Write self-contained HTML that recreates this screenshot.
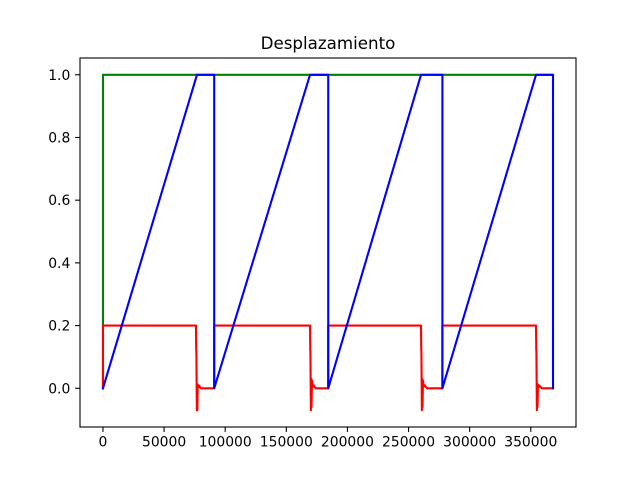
<!DOCTYPE html>
<html><head><meta charset="utf-8"><style>body{margin:0;background:#fff}svg{display:block;font-family:"DejaVu Sans","Liberation Sans",sans-serif}</style></head>
<body>
<svg id="c" width="640" height="480"></svg>
<script>
const xTicks=[0,50000,100000,150000,200000,250000,300000,350000];
const yTicks=[0.0,0.2,0.4,0.6,0.8,1.0];
const greenX=[0,0,368200];
const greenY=[0,1,1];
const blueX=[0,76900,91000,91000,169400,184300,184300,260200,277700,277700,354300,368200,368200];
const blueY=[0,1,1,0,1,1,0,1,1,0,1,1,0];
const redX=[0,0,76100,76300,76400,76800,77000,77200,77500,78200,78700,80000,91000,91000,169400,169600,169700,170100,170300,170600,171000,171600,172200,174000,184300,184300,260200,260400,260500,260900,261100,261400,261800,262400,263000,265000,277700,277700,354300,354500,354600,355000,355200,355500,355900,356500,357100,359000,368200];
const redY=[0,0.2,0.2,0.12,0.12,-0.07,0.01,-0.07,0.012,0.004,0.008,0,0,0.2,0.2,0.12,0.12,-0.07,0.03,-0.06,0.025,0.005,0.01,0,0,0.2,0.2,0.12,0.12,-0.07,0.03,-0.06,0.025,0.005,0.01,0,0,0.2,0.2,0.12,0.12,-0.07,0.015,-0.06,0.012,0.004,0.008,0,0];
const L=80,R=576,T=58,B=427;
const xmin=-18800,xmax=387000,ymin=-0.1235,ymax=1.0535;
const X=v=>L+(v-xmin)/(xmax-xmin)*(R-L);
const Y=v=>B-(v-ymin)/(ymax-ymin)*(B-T);
const svg=document.getElementById('c');const NS='http://www.w3.org/2000/svg';
function mk(t,a){const e=document.createElementNS(NS,t);for(const k in a)e.setAttribute(k,a[k]);svg.appendChild(e);return e;}
function line(xs,ys,col,name){const p=mk('polyline',{points:xs.map((x,i)=>X(x)+','+Y(ys[i])).join(' '),fill:'none',stroke:col,'stroke-width':2.1,'stroke-linejoin':'round','stroke-linecap':'square'});

}
line(greenX,greenY,'#008000','series-green');
line(redX,redY,'#ff0000','series-red');
line(blueX,blueY,'#0000ff','series-blue');
const fr=mk('rect',{x:L,y:T,width:R-L,height:B-T,fill:'none',stroke:'#000','stroke-width':1.1});


xTicks.forEach(v=>{const x=X(v);mk('line',{x1:x,x2:x,y1:B,y2:B+4.9,stroke:'#000','stroke-width':1.1});
const t=mk('text',{x:x,y:B+19.5,'text-anchor':'middle','font-size':13.9});t.textContent=v;

});
yTicks.forEach(v=>{const y=Y(v);mk('line',{x1:L-4.9,x2:L,y1:y,y2:y,stroke:'#000','stroke-width':1.1});
const t=mk('text',{x:L-9.7,y:y+5,'text-anchor':'end','font-size':13.9});t.textContent=v.toFixed(1);

});
const ti=mk('text',{x:(L+R)/2,y:T-9,'text-anchor':'middle','font-size':16.7});ti.textContent='Desplazamiento';


</script>
</body></html>
